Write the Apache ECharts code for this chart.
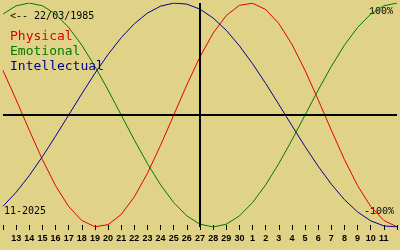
<!DOCTYPE html>
<html><head><meta charset="utf-8">
<script src="https://cdn.jsdelivr.net/npm/echarts@6/dist/echarts.min.js"></script>
<style>html,body{margin:0;padding:0;background:#e0d388;}#c{width:400px;height:250px;}</style>
</head><body><div id="c"></div>
<script>
// day labels for positions 0..30 (12 Nov 2025 .. 12 Dec 2025)
const dayLabels = ['12','13','14','15','16','17','18','19','20','21','22','23','24','25','26','27','28','29','30','1','2','3','4','5','6','7','8','9','10','11','12'];
const physical = [39.8,13.6,-13.6,-39.8,-63.1,-81.7,-94.2,-99.8,-97.9,-88.8,-73.1,-52.0,-27.0,0,27.0,52.0,73.1,88.8,97.9,99.8,94.2,81.7,63.1,39.8,13.6,-13.6,-39.8,-63.1,-81.7,-94.2,-99.8];
const emotional = [90.1,97.5,100,97.5,90.1,78.2,62.4,43.4,22.3,0,-22.3,-43.4,-62.4,-78.2,-90.1,-97.5,-100,-97.5,-90.1,-78.2,-62.4,-43.4,-22.3,0,22.3,43.4,62.4,78.2,90.1,97.5,100];
const intellectual = [-81.5,-69.0,-54.1,-37.2,-18.9,0,18.9,37.2,54.1,69.0,81.5,91.0,97.2,99.9,99.0,94.5,86.6,75.6,61.8,45.8,28.2,9.5,-9.5,-28.2,-45.8,-61.8,-75.6,-86.6,-94.5,-99.0,-99.9];
const todayIndex = 15;
const birthText = '<-- 22/03/1985';
const monthText = '11-2025';
const legendNames = ['Physical','Emotional','Intellectual'];
const colors = ['#e00000','#007800','#000090'];

const chart = echarts.init(document.getElementById('c'), null, {renderer:'canvas'});
const toPairs = arr => arr.map((v,i)=>[i,v]);
const mono = '"DejaVu Sans Mono", monospace';
const slab = '"Liberation Mono", monospace';
chart.setOption({
  backgroundColor:'#e0d388',
  animation:false,
  grid:{left:0,right:0,top:3,bottom:23},
  xAxis:{type:'value',min:0,max:30,interval:1,position:'bottom',
    axisLine:{show:false,onZero:false},splitLine:{show:false},
    axisTick:{show:true,inside:false,length:5,lineStyle:{color:'#000',width:1}},
    offset:-2,
    axisLabel:{show:true,margin:9,fontSize:9,fontWeight:'bold',color:'#000',fontFamily:'"Liberation Sans", Arial, sans-serif',
      formatter:v=>(v<=0||v>=30)?'':dayLabels[v]},
  },
  yAxis:{type:'value',min:-100,max:100,show:false},
  series:[
    {type:'line',data:toPairs(physical),showSymbol:false,lineStyle:{color:colors[0],width:1},color:colors[0],
      markLine:{silent:true,symbol:'none',label:{show:false},lineStyle:{color:'#000',width:2,type:'solid'},
        data:[{yAxis:0},{xAxis:todayIndex}]}},
    {type:'line',data:toPairs(emotional),showSymbol:false,lineStyle:{color:colors[1],width:1},color:colors[1]},
    {type:'line',data:toPairs(intellectual),showSymbol:false,lineStyle:{color:colors[2],width:1},color:colors[2]}
  ],
  graphic:[
    {type:'text',left:10,top:11,style:{text:birthText,font:'10px '+mono,fill:'#000'}},
    {type:'text',left:10,top:30,style:{text:legendNames[0],font:'13px '+mono,fill:colors[0]}},
    {type:'text',left:10,top:45,style:{text:legendNames[1],font:'13px '+mono,fill:colors[1]}},
    {type:'text',left:10,top:60,style:{text:legendNames[2],font:'13px '+mono,fill:colors[2]}},
    {type:'text',right:7,top:6,style:{text:'100%',font:'10px '+slab,fill:'#000'}},
    {type:'text',right:6,top:206,style:{text:'-100%',font:'10px '+slab,fill:'#000'}},
    {type:'text',left:4,top:206,style:{text:monthText,font:'10px '+mono,fill:'#000'}}
  ]
});
</script></body></html>
